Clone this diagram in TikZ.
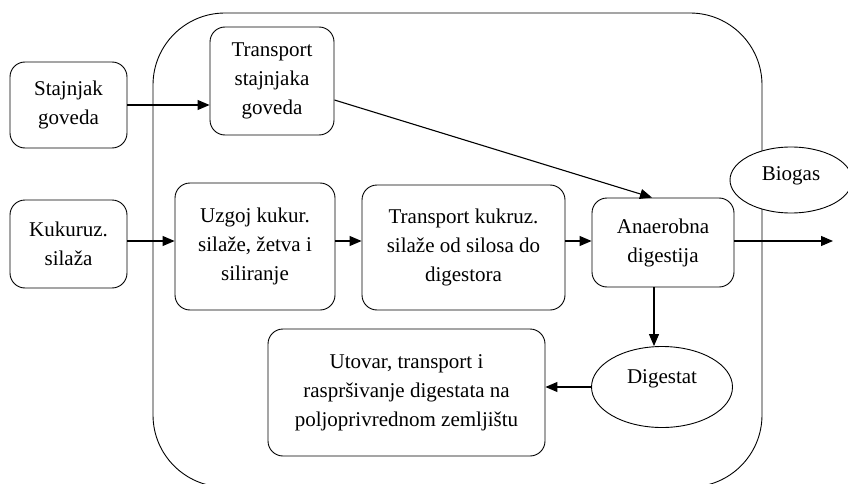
\documentclass[tikz,border=0pt]{standalone}
\usepackage{fontspec}
\setmainfont{Liberation Serif}
\usetikzlibrary{arrows.meta,shapes.geometric}
\begin{document}
\begin{tikzpicture}[x=1pt,y=-1pt,
  box/.style={draw,rounded corners=15pt,line width=0.9pt,align=center,inner sep=0pt,font=\fontsize{21}{29}\selectfont},
  oval/.style={draw,ellipse,fill=white,line width=0.9pt,inner sep=0pt,font=\fontsize{21}{29}\selectfont},
  flow/.style={line width=1.1pt,-{Triangle[length=12pt,width=10pt]}}]
\useasboundingbox (0,0) rectangle (848,484);
\draw[line width=0.9pt, rounded corners=72pt] (153,13) rectangle (762,487);
\node[box, minimum width=117pt, minimum height=86pt] (staj) at (68.5,105) {Stajnjak\\goveda};
\node[box, minimum width=124pt, minimum height=108pt] (tstaj) at (272,81) {Transport\\stajnjaka\\goveda};
\node[box, minimum width=117pt, minimum height=88pt] (kuk) at (68.5,244) {Kukuruz.\\silaža};
\node[box, minimum width=160pt, minimum height=127pt] (uzg) at (255,246.5) {Uzgoj kukur.\\silaže, žetva i\\siliranje};
\node[box, minimum width=203pt, minimum height=125pt] (tkuk) at (463.5,247.5) {Transport kukruz.\\silaže od silosa do\\digestora};
\node[box, minimum width=142pt, minimum height=89pt] (anae) at (663,242.5) {Anaerobna\\digestija};
\node[box, minimum width=277pt, minimum height=127pt] (utov) at (406.5,392.5) {Utovar, transport i\\raspršivanje digestata na\\poljoprivrednom zemljištu};
\node[oval, minimum width=141pt, minimum height=81pt, text depth=20pt] (dig) at (662,387) {Digestat};
\node[oval, minimum width=122pt, minimum height=66pt, text depth=12pt] (bio) at (791,180) {Biogas};
\coordinate (row) at (0,241);
\coordinate (out) at (833,241);
% connectors
\draw[flow] (staj.east) -- (staj.east -| tstaj.west);
\draw[flow] ([yshift=-19pt]tstaj.east) -- ([xshift=-11pt]anae.north);
\draw[flow] (kuk.east |- row) -- (uzg.west |- row);
\draw[flow] (uzg.east |- row) -- (tkuk.west |- row);
\draw[flow] (tkuk.east |- row) -- (anae.west |- row);
\draw[flow] (anae.east |- row) -- (out);
\draw[flow] ([xshift=-9pt]anae.south) -- ([xshift=-8pt]dig.north);
\draw[flow] (dig.west) -- (dig.west -| utov.east);
\end{tikzpicture}
\end{document}
